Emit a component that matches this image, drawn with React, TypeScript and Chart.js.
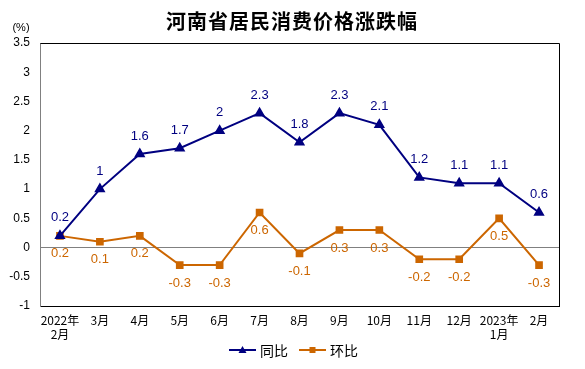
import React, { useEffect, useRef } from "react";
import { Chart, registerables } from "chart.js";

Chart.register(...registerables);

const categories: string[][] = [
  ["2022年", "2月"], ["3月"], ["4月"], ["5月"], ["6月"], ["7月"], ["8月"],
  ["9月"], ["10月"], ["11月"], ["12月"], ["2023年", "1月"], ["2月"],
];
const yoyValues = [0.2, 1, 1.6, 1.7, 2, 2.3, 1.8, 2.3, 2.1, 1.2, 1.1, 1.1, 0.6];
const momValues = [0.2, 0.1, 0.2, -0.3, -0.3, 0.6, -0.1, 0.3, 0.3, -0.2, -0.2, 0.5, -0.3];
const seriesNames = ["同比", "环比"];
const titleText = "河南省居民消费价格涨跌幅";
const unitText = "(%)";

const NAVY = "#000080";
const ORANGE = "#CC6600";

export default function App() {
  const ref = useRef<HTMLCanvasElement>(null);
  useEffect(() => {
    document.body.style.margin = "0";
    const canvas = ref.current!;
    const overlay = {
      id: "overlay",
      afterDraw(chart: any) {
        const ctx = chart.ctx;
        const a = chart.chartArea;
        ctx.save();
        ctx.strokeStyle = "#000";
        ctx.lineWidth = 1;
        ctx.beginPath();
        ctx.moveTo(Math.round(a.left) + 0.5, Math.round(a.top) + 0.5);
        ctx.lineTo(Math.round(a.right) + 0.5, Math.round(a.top) + 0.5);
        ctx.lineTo(Math.round(a.right) + 0.5, Math.round(a.bottom) + 0.5);
        ctx.stroke();
        ctx.fillStyle = "#000";
        ctx.font = "bold 20px 'Noto Sans CJK SC'";
        (ctx as any).letterSpacing = "1px";
        ctx.textAlign = "center";
        ctx.textBaseline = "middle";
        ctx.fillText(titleText, 292, 21);
        (ctx as any).letterSpacing = "0px";
        ctx.font = "11px 'Liberation Sans'";
        ctx.fillText(unitText, 21, 28);
        ctx.font = "13px 'Liberation Sans'";
        chart.data.datasets.forEach((ds: any, i: number) => {
          const meta = chart.getDatasetMeta(i);
          ctx.fillStyle = ds.borderColor;
          meta.data.forEach((pt: any, j: number) => {
            const v = ds.data[j];
            const y = i === 0 ? pt.y - 18 : pt.y + 18;
            ctx.fillText(String(v), pt.x, y);
          });
        });
        const ly = 350;
        const items = [
          { x: 229, color: NAVY, name: seriesNames[0], tri: true },
          { x: 299, color: ORANGE, name: seriesNames[1], tri: false },
        ];
        items.forEach((it) => {
          ctx.strokeStyle = it.color;
          ctx.fillStyle = it.color;
          ctx.lineWidth = 2;
          ctx.beginPath();
          ctx.moveTo(it.x, ly);
          ctx.lineTo(it.x + 27, ly);
          ctx.stroke();
          const cx = it.x + 13.5;
          if (it.tri) {
            ctx.beginPath();
            ctx.moveTo(cx, ly - 4);
            ctx.lineTo(cx + 4, ly + 3);
            ctx.lineTo(cx - 4, ly + 3);
            ctx.closePath();
            ctx.fill();
          } else {
            ctx.fillRect(cx - 3, ly - 3, 6, 6);
          }
          ctx.fillStyle = "#000";
          ctx.textAlign = "left";
          ctx.font = "14px 'Noto Sans CJK SC'";
          ctx.fillText(it.name, it.x + 31, ly + 1);
        });
        ctx.restore();
      },
    };
    const chart = new Chart(canvas, {
      type: "line",
      data: {
        labels: categories,
        datasets: [
          {
            label: seriesNames[0],
            data: yoyValues,
            borderColor: NAVY,
            backgroundColor: NAVY,
            borderWidth: 2,
            pointStyle: "triangle",
            pointRadius: 4.5,
            tension: 0,
          },
          {
            label: seriesNames[1],
            data: momValues,
            borderColor: ORANGE,
            backgroundColor: ORANGE,
            borderWidth: 2,
            pointStyle: "rect",
            pointRadius: 4,
            tension: 0,
          },
        ],
      },
      options: {
        responsive: false,
        animation: false,
        layout: { padding: { top: 43, right: 26, left: 0, bottom: 0 } },
        plugins: { legend: { display: false }, title: { display: false }, tooltip: { enabled: false } },
        scales: {
          x: {
            offset: true,
            grid: { display: false, drawTicks: false },
            border: { display: true, color: "#000", width: 1 },
            ticks: {
              color: "#000",
              font: { size: 12, family: "'Noto Sans CJK SC'" },
              padding: 7,
              maxRotation: 0,
              autoSkip: false,
            },
            afterFit: (s: any) => { s.height = 63; },
          },
          y: {
            min: -1,
            max: 3.5,
            ticks: {
              stepSize: 0.5,
              color: "#000",
              font: { size: 12, family: "'Liberation Sans'" },
              padding: 10,
              callback: (v: any) => String(Math.round(Number(v) * 10) / 10),
            },
            grid: {
              drawTicks: false,
              color: (c: any) => (c.tick && c.tick.value === 0 ? "#808080" : "rgba(0,0,0,0)"),
              lineWidth: 1,
            },
            border: { display: true, color: "#808080", width: 1 },
            afterFit: (s: any) => { s.width = 40; },
          },
        },
      },
      plugins: [overlay],
    });
    return () => chart.destroy();
  }, []);
  return <canvas ref={ref} width={585} height={369} style={{ display: "block" }} />;
}
